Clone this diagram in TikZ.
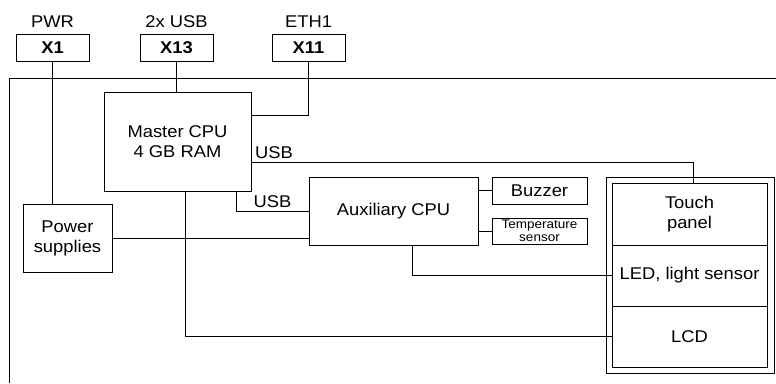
\documentclass[tikz,border=0pt]{standalone}
\usepackage{fontspec}
\setmainfont[FakeStretch=1.08]{Liberation Sans}
\usepackage{tikz}
\usetikzlibrary{positioning}

\begin{document}
\begin{tikzpicture}[x=1pt, y=-1pt, line width=0.9pt,
    font=\fontsize{17}{20}\selectfont,
    conbox/.style={draw, minimum width=73pt, minimum height=27pt, inner sep=0pt, font=\fontsize{17}{20}\selectfont\bfseries},
    block/.style={draw, align=center, inner sep=0pt},
    small/.style={font=\fontsize{12.5}{13.5}\selectfont}]
            \useasboundingbox (0,0) rectangle (776,383);
            % connectors on the edge
                  \node[conbox] (x1) at (52.5,47.5) {X1};
                  \node[conbox] (x13) at (176.5,47.5) {X13};
                  \node[conbox] (x11) at (308.5,47.5) {X11};
                  \node (pwr) at (52.5,22) {PWR};
                  \node (usbx) at (176.5,22) {2x USB};
                  \node (eth) at (308.5,22) {ETH1};

            % board outline
                  \coordinate (bl) at (9,383);
                  \coordinate (tr) at (776,78);
                  \draw (bl) |- (tr);

            % blocks
                  \node[block, minimum width=147pt, minimum height=99pt] (master) at (177.5,141.5) {Master CPU\\4 GB RAM};
                  \node[block, minimum width=89pt, minimum height=68pt] (power) at (67.5,238) {Power\\supplies};
                  \node[block, minimum width=169pt, minimum height=68pt] (aux) at (393.5,211) {Auxiliary CPU};
                  \node[block, minimum width=95pt, minimum height=27pt] (buzzer) at (539.5,190.5) {Buzzer};
                  \node[block, small, minimum width=95pt, minimum height=26pt] (temp) at (539.5,231) {Temperature\\sensor};

            % display
                  \node[draw, minimum width=168pt, minimum height=196pt] (display) at (690,275) {};
                  \node[block, minimum width=155pt, minimum height=62pt] (touch) at (689.5,214) {Touch\\panel};
                  \node[block, minimum width=155pt, minimum height=61pt] (led) at (689.5,275.5) {LED, light sensor};
                  \node[block, minimum width=155pt, minimum height=61pt] (lcd) at (689.5,336.5) {LCD};

            % wiring
                  \draw (x1.south) -- (x1.south |- power.north);
                  \draw (x13.south) -- (x13.south |- master.north);
                  \draw (x11.south) |- ([yshift=-24pt]master.north east);
                  \draw ([yshift=-71pt]master.north east) node[above right] {USB} -| ([xshift=3.5pt]touch.north);
                  \draw ([xshift=-15pt]master.south east) |- node[pos=0.75, above] {USB} (aux.west);
                  \draw (power.east) -- (power.east -| aux.west);
                  \draw ([xshift=7.5pt]master.south) |- (lcd.west);
                  \draw ([xshift=18.5pt]aux.south) |- (led.west);
                  \draw (aux.east |- buzzer.west) -- (buzzer.west);
                  \draw (aux.east |- temp.west) -- (temp.west);
              \end{tikzpicture}
\end{document}
